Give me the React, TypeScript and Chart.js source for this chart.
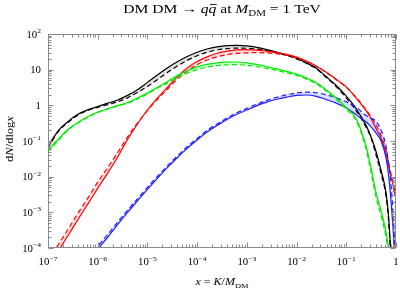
import { useEffect, useRef } from 'react';
import { Chart, registerables } from 'chart.js';

Chart.register(...registerables);

// x = K / M_DM sample positions
const xValues = [
  1e-7, 1.585e-7, 2.512e-7, 3.981e-7, 6.31e-7,
  1e-6, 1.585e-6, 2.512e-6, 3.981e-6, 6.31e-6,
  1e-5, 1.585e-5, 2.512e-5, 3.981e-5, 6.31e-5,
  1e-4, 1.585e-4, 2.512e-4, 3.981e-4, 6.31e-4,
  1e-3, 1.585e-3, 2.512e-3, 3.981e-3, 6.31e-3,
  1e-2, 1.585e-2, 2.512e-2, 3.981e-2, 6.31e-2,
  0.1, 0.1585, 0.2512, 0.3162, 0.3981, 0.5012, 0.631, 0.7079, 0.7943, 0.8913, 0.955,
];

const blackSolid = [0.07, 0.19, 0.35, 0.56, 0.75, 0.92, 1.15, 1.41, 1.9, 2.75, 4.4, 7.1, 11.2, 16.6, 23.4, 30.9, 38, 43.6, 47.3, 47.9, 46.2, 42, 36.5, 31, 26, 21, 15.5, 11, 6.3, 3.6, 1.8, 0.8, 0.27, 0.13, 0.05, 0.015, 0.0035, 0.0008, 0.00006, 0.000005, 0.0000005];
const blackDashed = [0.065, 0.18, 0.33, 0.53, 0.72, 0.88, 1.05, 1.26, 1.62, 2.29, 3.39, 5.25, 8.3, 12.6, 18.2, 24.5, 30.9, 35.5, 38.9, 40.3, 39.8, 38, 34.3, 30, 25, 20, 15, 10.5, 6, 3.3, 1.6, 0.7, 0.24, 0.12, 0.04, 0.012, 0.0028, 0.0006, 0.00004, 0.000003, 0.0000003];
const redSolid = [3e-5, 8e-5, 2.2e-4, 6.2e-4, 1.7e-3, 4.7e-3, 0.0126, 0.035, 0.11, 0.3, 0.74, 1.58, 3.16, 6.3, 11.2, 17, 22.9, 28.8, 33, 35.9, 36.7, 35.5, 33, 30.2, 26.9, 22.4, 17.5, 12.5, 8.5, 5.3, 3.3, 1.6, 0.7, 0.42, 0.22, 0.12, 0.045, 0.02, 0.01, 0.005, 0.003];
const redDashed = [4.5e-5, 1.2e-4, 3.3e-4, 9.3e-4, 2.5e-3, 7e-3, 0.0178, 0.047, 0.13, 0.32, 0.71, 1.48, 2.8, 5.4, 9.1, 13.8, 18.6, 22.9, 26.3, 28.5, 29.5, 29.9, 29.5, 27.9, 25.4, 21.4, 17, 12.3, 8.2, 5.2, 3.2, 1.65, 0.75, 0.48, 0.28, 0.14, 0.055, 0.025, 0.012, 0.006, 0.0035];
const greenSolid = [0.055, 0.11, 0.21, 0.33, 0.48, 0.65, 0.8, 0.98, 1.2, 1.6, 2.2, 3.2, 4.6, 6.8, 9.3, 12, 14, 15.5, 16.3, 16.4, 15.5, 14, 12.2, 10.5, 9, 7.5, 5.8, 4.3, 2.7, 1.6, 0.85, 0.42, 0.07, 0.017, 0.0035, 0.0011, 0.00028, 0.0001, 0.00003, 0.000005, 0.0000005];
const greenDashed = [0.05, 0.1, 0.2, 0.32, 0.46, 0.63, 0.78, 0.95, 1.15, 1.5, 2.1, 3.0, 4.2, 6.0, 8.0, 10, 11.8, 13, 13.7, 13.8, 13.3, 12.2, 10.9, 9.5, 8.2, 6.9, 5.4, 4.0, 2.5, 1.45, 0.77, 0.37, 0.058, 0.013, 0.0026, 0.0008, 0.0002, 0.00007, 0.00002, 0.000003, 0.0000003];
const blueSolid = [1e-6, 2.5e-6, 6e-6, 1.5e-5, 3.6e-5, 9e-5, 2e-4, 4.5e-4, 1e-3, 2.1e-3, 4.4e-3, 9e-3, 0.018, 0.034, 0.062, 0.107, 0.18, 0.27, 0.4, 0.56, 0.74, 0.98, 1.23, 1.48, 1.7, 1.9, 1.95, 1.78, 1.45, 1.15, 0.85, 0.54, 0.34, 0.25, 0.166, 0.1, 0.033, 0.011, 0.002, 0.00022, 0.00003];
const blueDashed = [1.2e-6, 3e-6, 7e-6, 1.8e-5, 4.5e-5, 1.1e-4, 2.4e-4, 5.3e-4, 1.15e-3, 2.4e-3, 5e-3, 0.0102, 0.02, 0.038, 0.069, 0.118, 0.2, 0.3, 0.44, 0.62, 0.82, 1.08, 1.38, 1.68, 1.98, 2.22, 2.35, 2.25, 1.98, 1.62, 1.25, 0.88, 0.52, 0.43, 0.36, 0.2, 0.07, 0.025, 0.006, 0.0006, 0.00008];

const xTickValues = [1e-7, 1e-6, 1e-5, 1e-4, 1e-3, 1e-2, 1e-1, 1];
const xTickBase = ['10', '10', '10', '10', '10', '10', '10', '1'];
const xTickExp = ['\u22127', '\u22126', '\u22125', '\u22124', '\u22123', '\u22122', '\u22121', ''];
const yTickValues = [1e-4, 1e-3, 1e-2, 1e-1, 1, 10, 100];
const yTickBase = ['10', '10', '10', '10', '1', '10', '10'];
const yTickExp = ['\u22124', '\u22123', '\u22122', '\u22121', '', '', '2'];
const minorMultipliers = [2, 3, 4, 5, 6, 7, 8, 9];

const FONT = '"Liberation Serif", "Times New Roman", serif';
const AXIS_GRAY = '#8a8a8a';

type Run = { t: string; italic?: boolean; sub?: boolean; sup?: boolean; over?: boolean };

function drawRuns(
  ctx: CanvasRenderingContext2D,
  runs: Run[],
  x: number,
  y: number,
  size: number,
  align: 'left' | 'center' | 'right',
  hscale: number,
) {
  const fontOf = (r: Run) =>
    `${r.italic ? 'italic ' : ''}${r.sub || r.sup ? size * 0.7 : size}px ${FONT}`;
  const widths = runs.map((r) => {
    ctx.font = fontOf(r);
    return ctx.measureText(r.t).width;
  });
  const total = widths.reduce((a, b) => a + b, 0);
  ctx.save();
  ctx.translate(x, y);
  ctx.scale(hscale, 1);
  let cx = align === 'center' ? -total / 2 : align === 'right' ? -total : 0;
  ctx.textBaseline = 'alphabetic';
  ctx.textAlign = 'left';
  runs.forEach((r, i) => {
    ctx.font = fontOf(r);
    const dy = r.sub ? size * 0.25 : r.sup ? -size * 0.45 : 0;
    ctx.fillText(r.t, cx, dy);
    if (r.over) {
      ctx.beginPath();
      ctx.lineWidth = 0.8;
      ctx.moveTo(cx + widths[i] * 0.2, -size * 0.62);
      ctx.lineTo(cx + widths[i] * 1.05, -size * 0.62);
      ctx.stroke();
    }
    cx += widths[i];
  });
  ctx.restore();
}

const decorPlugin = {
  id: 'decor',
  afterDatasetsDraw(chart: any) {
    const { ctx, chartArea: a, scales } = chart;
    const xs = scales.x;
    const ys = scales.y;
    const L = Math.round(a.left) + 0.5;
    const R = Math.round(a.right) - 0.5;
    const T = Math.round(a.top) + 0.5;
    const B = Math.round(a.bottom) - 0.5;
    ctx.save();
    ctx.strokeStyle = AXIS_GRAY;
    ctx.lineWidth = 1;
    ctx.strokeRect(L, T, R - L, B - T);

    const tick = (x1: number, y1: number, x2: number, y2: number) => {
      ctx.beginPath();
      ctx.moveTo(x1, y1);
      ctx.lineTo(x2, y2);
      ctx.stroke();
    };
    xTickValues.forEach((v, i) => {
      const px = Math.round(xs.getPixelForValue(v)) + 0.5;
      tick(px, B, px, B - 5);
      tick(px, T, px, T + 5);
      if (i < xTickValues.length - 1) {
        minorMultipliers.forEach((m) => {
          const mx = Math.round(xs.getPixelForValue(v * m)) + 0.5;
          tick(mx, B, mx, B - 3);
          tick(mx, T, mx, T + 3);
        });
      }
    });
    yTickValues.forEach((v, i) => {
      const py = Math.round(ys.getPixelForValue(v)) + 0.5;
      tick(L, py, L + 5, py);
      tick(R, py, R - 5, py);
      if (i < yTickValues.length - 1) {
        minorMultipliers.forEach((m) => {
          const my = Math.round(ys.getPixelForValue(v * m)) + 0.5;
          tick(L, my, L + 3, my);
          tick(R, my, R - 3, my);
        });
      }
    });

    ctx.fillStyle = '#000';
    ctx.strokeStyle = '#000';
    xTickValues.forEach((v, i) => {
      const runs: Run[] = [{ t: xTickBase[i] }];
      if (xTickExp[i]) runs.push({ t: xTickExp[i], sup: true });
      drawRuns(ctx, runs, xs.getPixelForValue(v), 265, 10, 'center', 1.08);
    });
    yTickValues.forEach((v, i) => {
      const runs: Run[] = [{ t: yTickBase[i] }];
      if (yTickExp[i]) runs.push({ t: yTickExp[i], sup: true });
      drawRuns(ctx, runs, 41, ys.getPixelForValue(v) + 3.5, 10, 'right', 1.08);
    });

    drawRuns(
      ctx,
      [
        { t: 'DM DM \u2192 ' },
        { t: 'q', italic: true },
        { t: 'q', italic: true, over: true },
        { t: ' at ' },
        { t: 'M', italic: true },
        { t: 'DM', sub: true },
        { t: ' = 1 TeV' },
      ],
      222,
      12.5,
      13,
      'center',
      1.2,
    );
    drawRuns(
      ctx,
      [
        { t: 'x', italic: true },
        { t: ' = ' },
        { t: 'K', italic: true },
        { t: '/' },
        { t: 'M', italic: true },
        { t: 'DM', sub: true },
      ],
      222,
      285,
      10,
      'center',
      1.2,
    );
    ctx.save();
    ctx.translate(13, 139);
    ctx.rotate(-Math.PI / 2);
    drawRuns(
      ctx,
      [{ t: 'd' }, { t: 'N', italic: true }, { t: '/dlog' }, { t: 'x', italic: true }],
      0,
      0,
      10,
      'center',
      1.25,
    );
    ctx.restore();
    ctx.restore();
  },
};

function series(values: number[]) {
  return xValues.map((x, i) => ({ x, y: values[i] }));
}

export default function App() {
  const ref = useRef<HTMLCanvasElement | null>(null);

  useEffect(() => {
    if (!ref.current) return;
    const solid = (data: number[], color: string) => ({
      data: series(data),
      borderColor: color,
      borderWidth: 1.2,
      pointRadius: 0,
      fill: false,
      cubicInterpolationMode: 'monotone' as const,
    });
    const dashed = (data: number[], color: string, band: string) => ({
      data: series(data),
      borderColor: color,
      borderWidth: 1.2,
      borderDash: [5, 3],
      pointRadius: 0,
      fill: '-1',
      backgroundColor: band,
      cubicInterpolationMode: 'monotone' as const,
    });
    const chart = new Chart(ref.current, {
      type: 'line',
      data: {
        datasets: [
          solid(greenSolid, 'rgb(0,235,0)'),
          dashed(greenDashed, 'rgb(0,235,0)', 'rgba(0,235,0,0.18)'),
          solid(blueSolid, 'rgb(30,30,255)'),
          dashed(blueDashed, 'rgb(30,30,255)', 'rgba(60,60,255,0.18)'),
          solid(redSolid, 'rgb(255,0,0)'),
          dashed(redDashed, 'rgb(255,0,0)', 'rgba(255,0,0,0.15)'),
          solid(blackSolid, 'rgb(0,0,0)'),
          dashed(blackDashed, 'rgb(0,0,0)', 'rgba(0,0,0,0.12)'),
        ] as any,
      },
      options: {
        animation: false,
        responsive: false,
        devicePixelRatio: 1,
        layout: { padding: { left: 48, right: 4, top: 34, bottom: 41 } },
        scales: {
          x: { type: 'logarithmic', min: 1e-7, max: 1, display: false },
          y: { type: 'logarithmic', min: 1e-4, max: 100, display: false },
        },
        plugins: {
          legend: { display: false },
          tooltip: { enabled: false },
          title: { display: false },
        },
        events: [],
      },
      plugins: [decorPlugin],
    });
    return () => chart.destroy();
  }, []);

  return (
    <div style={{ position: 'fixed', left: 0, top: 0, width: 400, height: 289, background: '#fff' }}>
      <canvas ref={ref} width={400} height={289} style={{ display: 'block' }} />
    </div>
  );
}
